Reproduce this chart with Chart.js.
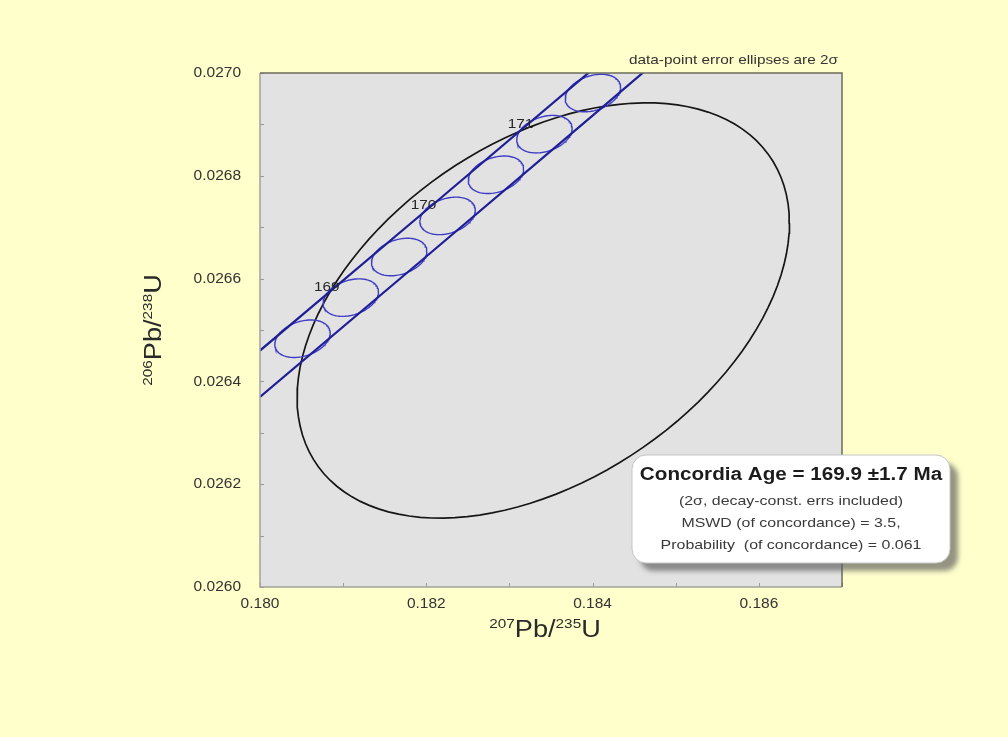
<!DOCTYPE html>
<html>
<head>
<meta charset="utf-8">
<script src="https://cdn.jsdelivr.net/npm/chart.js@4.4.1/dist/chart.umd.min.js"></script>
<style>
    html, body { margin: 0; padding: 0; background: #ffffcc; }
    #wrap { width: 1008px; height: 737px; }
</style>
</head>
<body>
<div id="wrap"><canvas id="concordiaChart" width="1008" height="737"></canvas></div>
<script>
// Concordia reference ellipses, every 0.5 Ma
const concordiaAges = [168.5, 169, 169.5, 170, 170.5, 171, 171.5];
const concordiaX = [0.180511, 0.181092, 0.181674, 0.182256, 0.182838, 0.183421, 0.184004];
const concordiaY = [0.026483, 0.026563, 0.026642, 0.026722, 0.026802, 0.026881, 0.026961];
const concordiaHalfX = 0.000333;
const concordiaHalfY = 0.0000365;
const concordiaRho = 0.3;

// Ages that get a text label
const labelledAges = [169, 170, 171];

// Decay-constant error envelope of the concordia
const bandUpperX = [0.180, 0.182, 0.184];
const bandUpperY = [0.026460, 0.026733, 0.027007];
const bandLowerX = [0.180, 0.182, 0.184, 0.185];
const bandLowerY = [0.026370, 0.026643, 0.026917, 0.027055];

// Measured data point, 2 sigma
const sampleX = 0.183407;
const sampleY = 0.026538;
const sampleHalfX = 0.002961;
const sampleHalfY = 0.000404;
const sampleRho = 0.42;

const xTickLabels = ['0.180', '0.182', '0.184', '0.186'];
const yTickLabels = ['0.0260', '0.0262', '0.0264', '0.0266', '0.0268', '0.0270'];

const resultLines = [
    'Concordia Age = 169.9 \u00b11.7 Ma',
    '(2\u03c3, decay-const. errs included)',
    'MSWD (of concordance) = 3.5,',
    'Probability  (of concordance) = 0.061'
];
const noteText = 'data-point error ellipses are 2\u03c3';

const FONT = "'Liberation Sans', Arial, sans-serif";
const WIDE = 1.18;   // text in this figure is set slightly wide

// outline of an error ellipse from half-widths and correlation
function ellipsePoints(cx, cy, hx, hy, rho) {
    const pts = [];
    const s = Math.sqrt(1 - rho * rho);
    for (let i = 0; i <= 120; i++) {
        const t = 2 * Math.PI * i / 120;
        pts.push({ x: cx + hx * Math.cos(t), y: cy + hy * (rho * Math.cos(t) + s * Math.sin(t)) });
    }
    return pts;
}

function linePoints(xs, ys) {
    return xs.map((x, i) => ({ x: x, y: ys[i] }));
}

const datasets = [];

datasets.push({
    data: linePoints(bandUpperX, bandUpperY),
    borderColor: '#1e1e96', borderWidth: 2.2, showLine: true, pointRadius: 0
});
datasets.push({
    data: linePoints(bandLowerX, bandLowerY),
    borderColor: '#1e1e96', borderWidth: 2.2, showLine: true, pointRadius: 0
});

concordiaAges.forEach((age, i) => {
    datasets.push({
        data: ellipsePoints(concordiaX[i], concordiaY[i], concordiaHalfX, concordiaHalfY, concordiaRho),
        borderColor: '#3d3dc6', borderWidth: 1.4, showLine: true, pointRadius: 0, tension: 0
    });
});

datasets.push({
    data: ellipsePoints(sampleX, sampleY, sampleHalfX, sampleHalfY, sampleRho),
    borderColor: '#161616', borderWidth: 1.7, showLine: true, pointRadius: 0, tension: 0
});

// text drawn with a little horizontal stretch
function wideText(ctx, text, x, y, align) {
    const w = ctx.measureText(text).width * WIDE;
    let left = x;
    if (align === 'center') left = x - w / 2;
    if (align === 'right') left = x - w;
    ctx.save();
    ctx.textAlign = 'left';
    ctx.translate(left, y);
    ctx.scale(WIDE, 1);
    ctx.fillText(text, 0, 0);
    ctx.restore();
    return w;
}

// draws "207Pb/235U" style labels with small superscript mass numbers
function drawIsotope(ctx, parts, x, y, big, small) {
    let width = 0;
    parts.forEach(p => {
        ctx.font = (p.sup ? small : big) + 'px ' + FONT;
        width += ctx.measureText(p.text).width * WIDE;
    });
    let cx = x - width / 2;
    ctx.textBaseline = 'alphabetic';
    parts.forEach(p => {
        ctx.font = (p.sup ? small : big) + 'px ' + FONT;
        cx += wideText(ctx, p.text, cx, p.sup ? y - big * 0.4 : y, 'left');
    });
}

const backdrop = {
    id: 'backdrop',
    beforeDraw(chart) {
        const ctx = chart.ctx;
        const a = chart.chartArea;
        ctx.save();
        ctx.fillStyle = '#ffffcc';
        ctx.fillRect(0, 0, chart.width, chart.height);
        ctx.fillStyle = '#e2e2e2';
        ctx.fillRect(a.left, a.top, a.right - a.left, a.bottom - a.top);
        ctx.restore();
    }
};

const decorations = {
    id: 'decorations',
    afterDatasetsDraw(chart) {
        const ctx = chart.ctx;
        const a = chart.chartArea;
        const xs = chart.scales.x;
        const ys = chart.scales.y;
        ctx.save();

        // inward tick marks
        ctx.strokeStyle = '#9a9a9a';
        ctx.lineWidth = 1;
        xs.ticks.forEach(t => {
            const px = Math.round(xs.getPixelForValue(t.value)) + 0.5;
            ctx.beginPath();
            ctx.moveTo(px, a.bottom);
            ctx.lineTo(px, a.bottom - 4);
            ctx.stroke();
        });
        ys.ticks.forEach(t => {
            const py = Math.round(ys.getPixelForValue(t.value)) + 0.5;
            ctx.beginPath();
            ctx.moveTo(a.left, py);
            ctx.lineTo(a.left + 4, py);
            ctx.stroke();
        });

        // frame
        ctx.lineWidth = 1.5;
        ctx.strokeStyle = '#a3a39a';
        ctx.beginPath();
        ctx.moveTo(a.left, a.top);
        ctx.lineTo(a.left, a.bottom);
        ctx.lineTo(a.right, a.bottom);
        ctx.stroke();
        ctx.strokeStyle = '#6c6c5c';
        ctx.beginPath();
        ctx.moveTo(a.left, a.top);
        ctx.lineTo(a.right, a.top);
        ctx.lineTo(a.right, a.bottom);
        ctx.stroke();

        // age labels along the concordia
        ctx.fillStyle = '#262626';
        ctx.font = '13px ' + FONT;
        ctx.textBaseline = 'middle';
        labelledAges.forEach(age => {
            const i = concordiaAges.indexOf(age);
            const px = xs.getPixelForValue(concordiaX[i]);
            const py = ys.getPixelForValue(concordiaY[i]);
            wideText(ctx, String(age), px - 24, py - 10, 'center');
        });

        // axis titles
        ctx.fillStyle = '#2a2a2a';
        drawIsotope(ctx, [
            { text: '207', sup: true }, { text: 'Pb/', sup: false },
            { text: '235', sup: true }, { text: 'U', sup: false }
        ], (a.left + a.right) / 2 - 6, 637, 23, 13);
        ctx.save();
        ctx.translate(161, (a.top + a.bottom) / 2);
        ctx.rotate(-Math.PI / 2);
        drawIsotope(ctx, [
            { text: '206', sup: true }, { text: 'Pb/', sup: false },
            { text: '238', sup: true }, { text: 'U', sup: false }
        ], 0, 0, 23, 13);
        ctx.restore();

        // note above the plot
        ctx.fillStyle = '#333333';
        ctx.font = '13px ' + FONT;
        ctx.textBaseline = 'middle';
        wideText(ctx, noteText, 838, 60, 'right');

        // result box
        const bx = 632, by = 455, bw = 318, bh = 108;
        ctx.save();
        ctx.shadowColor = 'rgba(90, 90, 90, 0.65)';
        ctx.shadowOffsetX = 8;
        ctx.shadowOffsetY = 8;
        ctx.shadowBlur = 5;
        ctx.fillStyle = '#ffffff';
        ctx.beginPath();
        ctx.roundRect(bx, by, bw, bh, 14);
        ctx.fill();
        ctx.restore();
        ctx.strokeStyle = '#c4c4c4';
        ctx.lineWidth = 1;
        ctx.beginPath();
        ctx.roundRect(bx, by, bw, bh, 14);
        ctx.stroke();

        const mid = bx + bw / 2;
        ctx.textBaseline = 'middle';
        ctx.fillStyle = '#1c1c1c';
        ctx.font = 'bold 17.5px ' + FONT;
        wideText(ctx, resultLines[0], mid, 475, 'center');
        ctx.fillStyle = '#3a3a3a';
        ctx.font = '13.5px ' + FONT;
        wideText(ctx, resultLines[1], mid, 501, 'center');
        wideText(ctx, resultLines[2], mid, 523, 'center');
        wideText(ctx, resultLines[3], mid, 545, 'center');

        ctx.restore();
    }
};

const ctx = document.getElementById('concordiaChart').getContext('2d');
new Chart(ctx, {
    type: 'scatter',
    data: { datasets: datasets },
    options: {
        responsive: false,
        animation: false,
        layout: { padding: { left: 0, top: 73, right: 166, bottom: 110 } },
        plugins: {
            legend: { display: false },
            tooltip: { enabled: false }
        },
        scales: {
            x: {
                type: 'linear',
                min: 0.180,
                max: 0.187,
                grid: { display: false, drawTicks: false },
                border: { display: false },
                ticks: {
                    stepSize: 0.001,
                    maxTicksLimit: 20,
                    autoSkip: false,
                    maxRotation: 0,
                    padding: 7,
                    color: '#333333',
                    font: { family: FONT, size: 15.5 },
                    callback: function(value) {
                        const s = value.toFixed(3);
                        return xTickLabels.includes(s) ? s : '';
                    }
                },
                afterFit: function(scale) { scale.height = 40; }
            },
            y: {
                type: 'linear',
                min: 0.0260,
                max: 0.0270,
                grid: { display: false, drawTicks: false },
                border: { display: false },
                ticks: {
                    stepSize: 0.0001,
                    maxTicksLimit: 20,
                    autoSkip: false,
                    padding: 19,
                    color: '#333333',
                    font: { family: FONT, size: 15.5 },
                    callback: function(value) {
                        const s = value.toFixed(4);
                        return yTickLabels.includes(s) ? s : '';
                    }
                },
                afterFit: function(scale) { scale.width = 260; }
            }
        }
    },
    plugins: [backdrop, decorations]
});
</script>
</body>
</html>
